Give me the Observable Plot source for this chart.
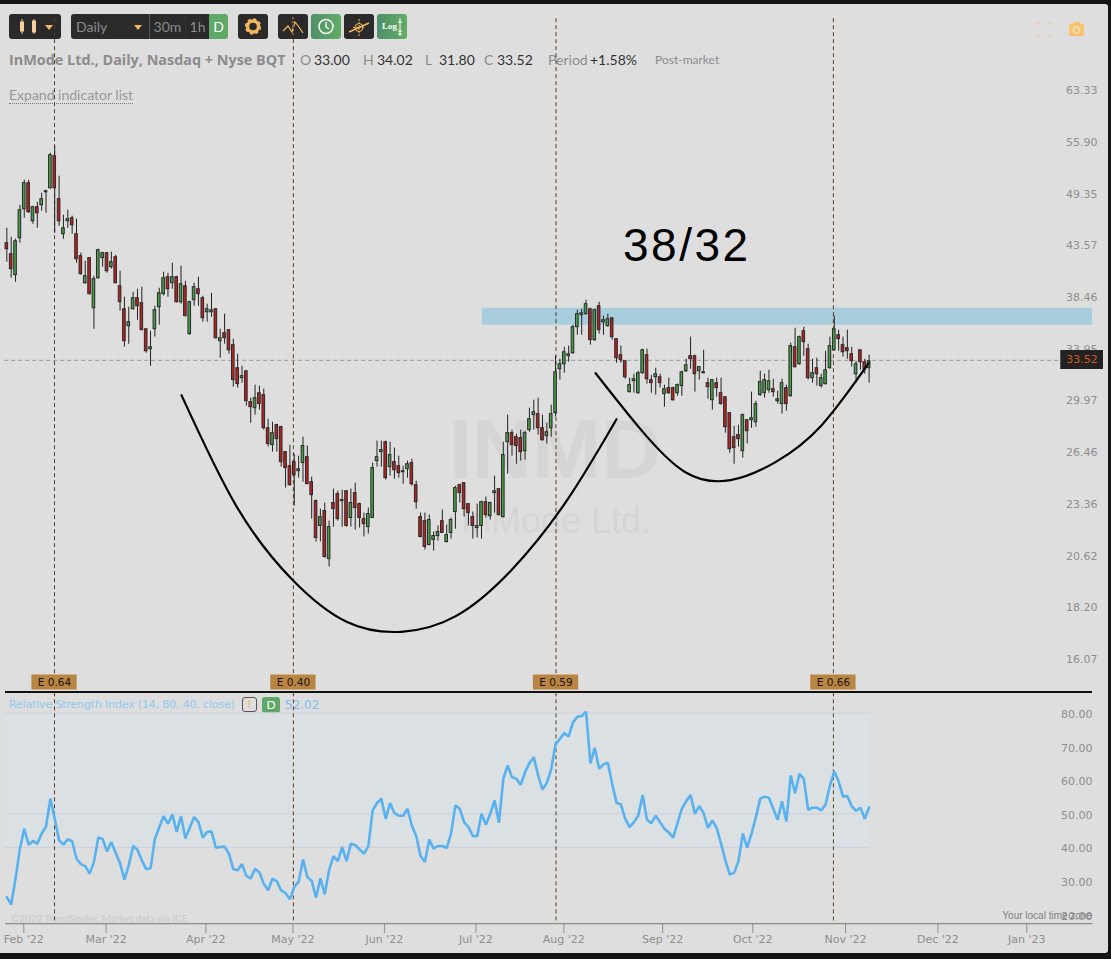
<!DOCTYPE html>
<html><head><meta charset="utf-8">
<script src="https://cdn.jsdelivr.net/npm/d3@7"></script>
<script src="https://cdn.jsdelivr.net/npm/@observablehq/plot@0.6"></script>
<style>
html,body{margin:0;padding:0;background:#151515;overflow:hidden}
#stage{position:relative;width:1111px;height:959px;background:#151515;overflow:hidden}
#panel{position:absolute;left:0;top:4px;width:1108px;height:949px;background:#dedede;border-radius:0 3px 3px 0}
#stage svg.plot{position:absolute;left:0}
.t{position:absolute;white-space:nowrap;font-family:Lato,sans-serif;line-height:1}
.btn{position:absolute;top:14px;height:25px;background:#2a2a2a;border-radius:3px;color:#8a8a8a;font:14px/25px Lato,sans-serif;text-align:center;box-sizing:border-box}
.mid{border-radius:0}
.grn{background:linear-gradient(90deg,#4f9068,#63ad66);color:#fff}
.btn svg{position:absolute;left:0;top:0}
.caret{position:absolute;width:0;height:0;border-left:4px solid transparent;border-right:4px solid transparent;border-top:5px solid #f5b75e}
</style></head><body>
<div id="stage">
<div id="panel"></div>
<div class="t" style="left:449px;top:408px;font:bold 83px/1 'Liberation Sans';color:#d5d5d5">INMD</div>
<div class="t" style="left:461px;top:503px;font:36px/1 'Liberation Sans';color:#d5d5d5">InMode Ltd.</div>
<div class="btn" style="left:9px;width:52px"><svg width="52" height="25"><g stroke="#f8cf9b" fill="#f8cf9b"><path d="M13 5V20M25 5V20"/><rect x="11.5" y="8" width="3" height="9"/><rect x="23.5" y="7" width="3" height="11"/></g></svg><div class="caret" style="left:36px;top:11px"></div></div>
<div class="btn mid" style="left:71px;width:78px;text-align:left;padding-left:5px;border-radius:3px 0 0 3px">Daily<div class="caret" style="left:63px;top:11px"></div></div>
<div class="btn mid" style="left:149px;width:36px;border-left:1px solid #555">30m</div>
<div class="btn mid" style="left:185px;width:24px;border-left:1px solid #333">1h</div>
<div class="btn mid" style="left:209px;width:19px;background:#5fa868;color:#fff;border-radius:0 3px 3px 0">D</div>
<div class="btn" style="left:238px;width:30px"><svg width="30" height="25"><circle cx="15" cy="12.5" r="5.5" fill="none" stroke="#f5b75e" stroke-width="3.4"/><circle cx="15" cy="12.5" r="7" fill="none" stroke="#f5b75e" stroke-width="2.4" stroke-dasharray="3 2.5"/></svg></div>
<div class="btn" style="left:278px;width:30px"><svg width="30" height="25"><path d="M5 17L10 12L14 18L17 8L21 13L25 19" fill="none" stroke="#f5b75e" stroke-width="1.2"/><path d="M15 3V22" stroke="#f5b75e" stroke-dasharray="2 2"/></svg></div>
<div class="btn grn" style="left:311px;width:30px"><svg width="30" height="25"><circle cx="15" cy="12.5" r="7" fill="none" stroke="#fff" stroke-width="1.5"/><path d="M15 8V13L18 15" fill="none" stroke="#fff" stroke-width="1.3"/></svg></div>
<div class="btn" style="left:344px;width:30px"><svg width="30" height="25"><path d="M5 18L25 9" stroke="#f5b75e" stroke-width="1.5"/><circle cx="15" cy="13.5" r="4" fill="none" stroke="#f5b75e"/><path d="M15 5V22M9 13.5H21" stroke="#f5b75e" stroke-dasharray="2 1"/></svg></div>
<div class="btn grn" style="left:377px;width:30px;font:bold 9px/25px 'Liberation Serif';text-align:left;padding-left:5px">Log<svg width="30" height="25"><path d="M23 4V22M21 8H25M21 17H25M21 20H25" stroke="#fff"/></svg></div>
<svg width="16" height="16" style="position:absolute;left:1036px;top:22px;opacity:.7"><path d="M1 4V1H4M12 1H15V4M15 12V15H12M4 15H1V12" fill="none" stroke="#f5c070"/></svg>
<svg width="18" height="16" style="position:absolute;left:1068px;top:21px"><rect x="1" y="3" width="15" height="12" rx="2" fill="#f9c26a"/><rect x="5" y="1" width="7" height="3" fill="#f9c26a"/><circle cx="8.5" cy="9" r="3" fill="none" stroke="#eedfc5" stroke-width="1.6"/></svg>
<div class="t" style="left:9px;top:53px;font:700 14.4px/1 'Open Sans';color:#8c8c8c">InMode Ltd., Daily, Nasdaq + Nyse BQT</div>
<div class="t" style="left:300px;top:53px;font-size:14px;color:#8c8c8c">O</div><div class="t" style="left:314px;top:53px;font-size:14px;color:#333">33.00</div>
<div class="t" style="left:363px;top:53px;font-size:14px;color:#8c8c8c">H</div><div class="t" style="left:377px;top:53px;font-size:14px;color:#333">34.02</div>
<div class="t" style="left:425px;top:53px;font-size:14px;color:#8c8c8c">L</div><div class="t" style="left:439px;top:53px;font-size:14px;color:#333">31.80</div>
<div class="t" style="left:484px;top:53px;font-size:14px;color:#8c8c8c">C</div><div class="t" style="left:497px;top:53px;font-size:14px;color:#333">33.52</div>
<div class="t" style="left:548px;top:53px;font-size:14px;color:#8c8c8c">Period</div><div class="t" style="left:590px;top:53px;font-size:14px;color:#333">+1.58%</div>
<div class="t" style="left:655px;top:54px;font-size:12px;color:#8c8c8c">Post-market</div>
<div class="t" style="left:9px;top:88px;font-size:14px;color:#999;border-bottom:1px dotted #777;padding-bottom:1px">Expand indicator list</div>
<div class="t" style="left:623px;top:222px;font:46px/1 'Liberation Sans';letter-spacing:2.5px;color:#000">38/32</div>
<div style="position:absolute;left:5px;top:691px;width:1087px;height:2.2px;background:#111"></div>
<div class="t" style="left:9px;top:699px;font:11px/1 'DejaVu Sans';letter-spacing:-.16px;color:#90c8ee">Relative Strength Index (14, 80, 40, close)</div>
<div style="position:absolute;left:242px;top:697px;width:15px;height:15px;border:1px solid #555;border-radius:3px;box-sizing:border-box;text-align:center;font:bold 10px/12px 'DejaVu Sans';color:#f5b75e">⋮</div>
<div class="t" style="left:262px;top:697px;width:18px;height:16px;background:#5fa868;border-radius:3px;color:#fff;font-size:12px;line-height:16px;text-align:center">D</div>
<div class="t" style="left:285px;top:699px;font:12px/1 'DejaVu Sans';color:#7fc0ee">52.02</div>
<div class="t" style="left:11px;top:913px;font:10px/1 Lato;color:#c8c8c8">©2022 TrendSpider. Market data via ICE.</div>
<div id="c1"></div><div id="c2"></div>
<div class="t" style="left:1060px;top:350px;width:43px;height:19px;background:#222;border-left:1px solid #555;box-sizing:border-box;text-align:center;font:11px/19px 'DejaVu Sans';color:#d2581f">33.52</div>
<div class="t" style="right:19px;top:911px;font:10px/1 'Liberation Sans';color:#808080">Your local time zone</div>
</div>
<script>
const highs=[45.44,44.47,44.25,48.03,51.01,51.01,47.91,48.37,49.44,49.80,
54.44,55.37,51.51,46.89,47.46,46.78,46.44,42.79,41.97,42.28,
40.48,43.20,42.89,42.79,42.89,42.58,40.97,38.48,37.56,38.95,
39.23,39.42,35.62,35.45,37.65,39.32,40.87,40.77,41.77,40.48,
41.47,39.99,38.11,39.80,40.38,38.57,37.84,38.85,37.38,35.62,
36.94,35.54,34.78,33.54,32.58,32.19,30.17,31.13,31.06,30.83,
28.68,28.47,28.34,28.20,26.49,26.94,26.36,26.23,27.46,26.88,
24.94,23.60,23.09,23.43,22.43,24.23,24.11,24.17,24.11,24.23,
24.58,23.43,22.87,23.15,25.80,27.20,27.20,27.20,27.13,26.75,
26.23,25.61,25.92,26.05,24.70,22.87,22.87,22.76,21.85,22.17,
23.04,22.22,22.60,24.40,24.52,24.58,23.37,22.93,23.37,23.54,
23.77,23.48,25.00,24.23,27.13,28.96,27.93,27.66,27.93,27.86,
29.45,30.02,30.17,28.96,28.40,29.67,33.38,33.14,34.11,34.20,
35.97,37.29,37.38,38.20,37.47,37.38,38.02,36.76,36.94,36.58,
34.78,34.20,32.98,31.66,31.96,32.19,33.95,33.95,31.88,32.43,
31.96,31.13,31.66,30.98,31.21,32.19,33.14,34.95,33.46,32.51,
33.86,31.66,31.51,31.66,31.66,30.24,29.10,28.20,28.27,29.03,
28.61,30.61,29.95,32.19,31.96,32.27,31.58,30.68,31.58,31.13,
34.45,35.71,35.03,35.80,34.36,33.14,33.22,31.96,33.78,34.95,
36.76,35.54,34.95,35.54,34.11,32.98,33.86,33.14,33.46];
const bodyTops=[43.83,42.68,44.04,47.45,50.65,50.65,47.80,47.80,48.73,49.68,
54.18,54.05,48.73,45.44,46.44,46.55,44.79,42.48,40.48,42.28,
40.19,43.10,42.79,42.79,41.87,42.38,39.51,37.38,36.23,38.39,
38.39,37.93,35.62,34.11,37.29,38.85,40.28,40.38,40.38,40.38,
39.70,39.51,38.02,39.42,39.23,38.39,37.38,37.29,37.38,34.86,
35.28,35.54,34.28,32.43,31.81,32.19,29.88,30.17,30.53,30.39,
28.06,27.73,28.27,28.13,26.49,25.61,25.86,25.42,26.88,26.17,
24.64,23.54,22.65,22.98,22.11,23.43,23.94,23.60,24.11,23.43,
24.00,23.37,22.54,22.82,25.49,26.17,26.62,27.13,26.30,25.86,
25.61,25.30,25.73,25.80,24.46,22.65,22.43,22.49,21.64,21.85,
22.43,21.69,22.49,24.29,24.46,24.58,23.37,22.65,22.17,23.48,
23.48,23.43,24.11,24.23,26.30,27.73,27.73,27.46,27.40,27.73,
28.68,29.17,29.03,28.06,27.79,29.03,32.11,32.74,33.70,33.54,
35.80,36.94,37.02,37.84,37.38,37.29,37.65,36.40,36.49,36.58,
34.78,33.46,32.98,31.13,31.58,32.04,33.86,33.46,31.51,31.96,
31.73,30.83,30.91,30.91,31.13,32.11,32.66,33.38,33.38,32.51,
32.11,31.28,31.51,31.28,30.53,30.24,29.10,27.46,27.60,28.96,
28.61,28.75,29.74,31.36,31.51,31.43,30.83,30.09,31.28,30.91,
34.20,34.11,34.95,35.45,33.95,32.04,32.43,31.66,32.27,34.20,
35.62,35.11,34.28,34.03,33.54,32.74,33.86,32.90,32.98];
const bodyBottoms=[43.20,41.17,40.58,44.36,47.57,47.23,46.21,47.11,48.03,49.56,
50.04,50.04,46.21,44.79,46.21,45.77,42.17,40.68,39.80,38.76,
37.47,40.28,42.28,40.97,41.37,39.80,38.02,34.61,35.88,37.38,
37.65,35.54,33.78,33.95,35.62,37.56,38.76,39.23,39.80,38.02,
38.02,36.76,35.20,38.20,38.76,36.58,37.11,37.11,34.86,34.61,
34.86,33.86,31.51,31.21,31.66,29.95,29.52,29.45,29.74,28.06,
27.01,26.94,27.33,25.86,25.49,24.46,25.06,25.30,25.80,24.52,
23.88,21.54,22.17,20.57,20.47,23.09,22.54,23.54,22.17,22.60,
23.15,22.60,22.27,22.11,22.60,25.92,26.49,24.88,25.55,25.36,
25.18,25.24,25.42,24.52,23.48,21.59,21.08,21.18,21.43,21.64,
21.80,21.33,21.80,22.93,24.00,23.09,22.87,22.17,22.06,22.17,
22.76,22.70,24.00,22.76,22.65,27.13,26.94,26.88,26.49,26.55,
27.93,28.96,28.06,27.26,27.53,28.06,29.10,32.35,32.74,33.38,
33.62,35.80,36.85,36.94,34.70,34.70,35.54,36.23,35.88,34.95,
33.22,33.06,31.73,30.61,31.43,30.53,32.04,31.58,31.28,31.73,
31.28,30.46,30.53,30.02,30.53,31.06,32.19,33.14,31.96,32.19,
32.04,30.98,30.02,30.91,29.74,28.13,26.68,26.75,27.33,26.55,
27.86,28.61,28.47,30.39,30.53,30.76,30.61,29.95,29.74,29.74,
30.31,32.51,32.74,34.53,31.66,31.66,31.96,31.06,31.21,32.43,
33.86,34.78,33.70,33.78,32.98,31.96,32.90,32.35,32.43];
const lows=[41.87,40.28,39.89,43.83,46.55,47.10,45.88,45.44,47.34,47.11,
49.90,44.89,45.66,44.25,45.44,44.79,41.77,40.58,39.70,38.70,
35.62,40.19,41.37,40.77,41.17,39.75,37.20,34.11,34.36,37.30,
36.40,35.50,33.62,32.58,34.95,35.97,38.60,38.48,39.23,37.93,
37.84,36.70,35.11,37.65,37.65,36.23,36.23,36.67,34.78,33.22,
34.36,33.54,30.98,30.91,31.28,29.60,28.40,28.96,29.31,27.93,
26.81,26.49,26.49,25.55,24.29,24.40,23.26,24.88,24.64,24.50,
22.54,21.33,21.33,20.52,20.08,22.11,22.43,22.11,22.10,22.11,
21.95,22.06,21.59,21.74,22.58,25.55,25.55,24.76,25.00,24.82,
24.88,24.52,24.88,24.40,23.09,21.54,20.92,21.13,20.87,21.38,
21.78,21.28,21.48,22.00,23.43,22.65,22.17,21.48,21.54,21.48,
22.60,22.49,22.87,22.70,22.60,25.12,26.23,25.73,25.92,25.98,
27.79,27.93,27.60,27.20,27.01,27.46,28.82,31.51,32.04,32.90,
33.54,35.11,35.11,36.85,34.28,34.60,35.20,35.11,35.80,34.70,
32.82,32.82,31.58,30.55,30.53,30.46,31.96,31.21,30.53,30.39,
30.91,29.52,30.46,29.95,30.31,30.31,32.10,32.35,30.61,31.51,
32.00,30.09,29.31,30.24,29.67,27.73,26.42,25.73,26.81,26.11,
27.01,28.06,28.13,30.31,30.17,30.53,30.24,29.74,29.03,29.24,
30.24,32.43,32.66,33.38,31.51,31.28,31.06,30.91,31.13,32.35,
33.80,33.78,33.30,33.14,32.51,31.28,32.27,31.96,31.28];
const directions="RRGGGRGRGG"+"GRRGGRRRGR"+"GGGRGRRRGG"+"RRRGGGGRGR"+"GRGGRRGGRG"+"RRRRGRRGRR"+"RGRRRRRGGR"+"RRGRGRRGRG"+"RRRGGGGRGR"+"RGGRRRRGGG"+"RGGGRRRRGG"+"RGGRGGRRRG"+"GGRRGGGGGG"+"GGGGRGRGGR"+"RRRGGGGRRG"+"RGRRGGGRRG"+"GRGRRRRRRG"+"RGGGGGRGGR"+"GRGRRGRGGG"+"GRRRRGRRG";
const rsiValues=[25.2,23.0,30.7,39.6,45.5,40.8,41.9,41.1,44.1,46.2,54.5,48.5,42.1,40.8,42.4,41.8,36.6,35.0,34.4,32.2,35.6,42.9,42.5,38.8,41.6,38.3,35.3,30.4,34.7,40.4,39.3,36.1,33.5,33.8,42.6,46.0,49.3,47.0,49.8,44.6,49.3,42.6,45.8,49.0,47.5,42.9,44.6,44.7,39.9,40.1,40.2,38.1,33.5,33.2,35.0,31.5,30.7,33.6,32.5,29.2,27.2,30.7,29.9,27.2,26.4,24.5,28.2,29.7,36.4,31.2,30.0,25.0,30.8,26.0,33.2,37.4,35.9,40.1,35.9,41.1,40.7,39.4,38.1,40.3,51.0,53.2,54.5,48.5,53.2,50.2,49.4,49.4,51.5,46.5,43.4,37.4,35.6,42.3,39.6,40.4,40.4,39.8,44.1,
52.5,51.5,47.5,46.0,43.4,43.3,50.0,46.7,50.0,54.0,47.3,60.4,64.4,60.9,60.4,58.6,62.4,65.1,66.8,61.4,57.2,59.2,63.2,70.8,72.3,74.0,73.0,77.2,78.9,79.1,80.4,65.0,69.6,63.4,64.7,65.2,58.9,53.3,52.8,48.5,46.0,47.5,49.5,55.6,48.2,47.2,49.4,47.5,45.5,44.4,42.9,47.2,51.5,53.7,55.6,50.0,52.3,50.2,45.8,48.0,45.7,41.1,36.1,31.9,32.4,35.9,44.1,39.9,44.1,49.0,54.5,55.1,54.7,51.5,48.2,53.7,47.7,61.4,56.1,61.9,60.4,51.2,51.8,51.8,51.0,52.7,58.4,62.6,59.6,55.1,55.3,52.2,50.9,51.8,48.5,51.9];
const priceTicks=[63.33,55.90,49.35,43.57,38.46,33.95,29.97,26.46,23.36,20.62,18.20,16.07];
const rsiTicks=[80,70,60,50,40,30,20];
const rsiGuides=[80,50,40];
const monthIndex=[3.9,22.8,45.7,65.7,86.7,107.7,127.9,150.6,171.3,192.6,213.8,234.2];
const monthLabels=["Feb '22","Mar '22","Apr '22","May '22","Jun '22","Jul '22","Aug '22","Sep '22","Oct '22","Nov '22","Dec '22","Jan '23"];
const earningsIndex=[10.95,65.8,126.1,189.8];
const earningsLabels=["E 0.64","E 0.40","E 0.59","E 0.66"];
const lastLine=33.05;
const zone={x1:109.2,x2:249.3,top:37.47,bottom:35.97};
const cup1X=[40.1,52.7,65.4,78,90.6,103.2,115.9,128.5,140];
const cup1Y=[30.39,23.26,19.51,17.60,17.18,17.85,19.94,23.54,28.68];
const cup2X=[135.2,145.5,155.8,166.2,176.5,186.9,197.9];
const cup2Y=[32.04,28,25.24,24.76,25.86,28.20,32.82];

const candles=highs.map((h,i)=>({i,high:h,low:lows[i],top:bodyTops[i],bottom:bodyBottoms[i],up:directions[i]==="G"}));
const rsiOffset=candles.length-rsiValues.length;
const rsi=rsiValues.map((v,i)=>({i:i+rsiOffset,v}));
const cup1=cup1X.map((x,i)=>({x,y:cup1Y[i]}));
const cup2=cup2X.map((x,i)=>({x,y:cup2Y[i]}));
const earnings=earningsIndex.map((x,i)=>({x,label:earningsLabels[i]}));
const monthName=new Map(monthIndex.map((m,i)=>[m,monthLabels[i]]));
const xScale={domain:[0,250],range:[6.33,1095.08],axis:null};
const font="'DejaVu Sans',sans-serif";
const AXIS="#8e8e8e", EARN="#5a3d20";

const priceChart=Plot.plot({
  width:1111,height:692,margin:0,marginRight:14,
  style:{background:"transparent",fontFamily:font,fontSize:"11px",top:"0px",overflow:"visible"},
  x:xScale,
  y:{type:"log",domain:[63.33,16.07],range:[90,659],axis:null},
  marks:[
    Plot.rect([zone],{x1:"x1",x2:"x2",y1:"top",y2:"bottom",fill:"#a8cddc"}),
    Plot.ruleY([lastLine],{x1:-0.5,x2:242,stroke:"#979797",strokeWidth:1,strokeDasharray:"4,3"}),
    Plot.ruleX(earnings,{x:"x",y1:75.3,y2:15.5,stroke:EARN,strokeWidth:1,strokeDasharray:"4,3"}),
    Plot.ruleX(candles,{x:"i",y1:"low",y2:"high",stroke:"#222",strokeWidth:1}),
    Plot.rect(candles,{x1:d=>d.i-0.3,x2:d=>d.i+0.3,y1:"top",y2:"bottom",fill:d=>d.up?"#45a045":"#bb2020",stroke:"#2a2a2a",strokeWidth:1}),
    Plot.line(cup1,{x:"x",y:"y",curve:"natural",stroke:"#000",strokeWidth:2.2}),
    Plot.line(cup2,{x:"x",y:"y",curve:"natural",stroke:"#000",strokeWidth:2.2}),
    Plot.axisY(priceTicks,{anchor:"right",label:null,tickSize:0,tickPadding:0,textAnchor:"end",color:AXIS,tickFormat:d=>d.toFixed(2)}),
    Plot.rect(earnings,{x1:d=>d.x-5.2,x2:d=>d.x+5.2,y1:15.48,y2:14.93,fill:"#b98542"}),
    Plot.text(earnings,{x:"x",y:15.2,text:"label",fill:"#1c1305",fontSize:10.5})
  ]
});
priceChart.style.position="absolute";
document.getElementById("c1").append(priceChart);

const rsiChart=Plot.plot({
  width:1111,height:267,marginTop:0,marginLeft:0,marginRight:19,marginBottom:36,
  style:{background:"transparent",fontFamily:font,fontSize:"11px",top:"692px",overflow:"visible"},
  x:xScale,
  y:{domain:[80,20],range:[20.5,222],axis:null},
  marks:[
    Plot.rect([{}],{x1:-0.3,x2:198.3,y1:80,y2:40,fill:"#dbe0e2"}),
    Plot.ruleY(rsiGuides,{x1:-0.3,x2:198.3,stroke:"#cfcfe0",strokeWidth:1.2}),
    Plot.ruleX(earnings,{x:"x",y1:86,y2:17.3,stroke:EARN,strokeWidth:1,strokeDasharray:"4,3"}),
    Plot.line(rsi,{x:"i",y:"v",stroke:"#58b2f0",strokeWidth:2.6,strokeLinejoin:"miter"}),
    Plot.ruleY([17.3],{x1:-0.3,x2:249.4,stroke:"#8b8b8b",strokeWidth:1.2}),
    Plot.axisY(rsiTicks,{anchor:"right",label:null,tickSize:0,tickPadding:0,textAnchor:"end",dy:1.5,color:AXIS,tickFormat:d=>d.toFixed(2)}),
    Plot.axisX(monthIndex,{anchor:"bottom",label:null,tickSize:10,tickPadding:2,color:AXIS,tickFormat:d=>monthName.get(d)})
  ]
});
rsiChart.style.position="absolute";
document.getElementById("c2").append(rsiChart);
</script>
</body></html>
